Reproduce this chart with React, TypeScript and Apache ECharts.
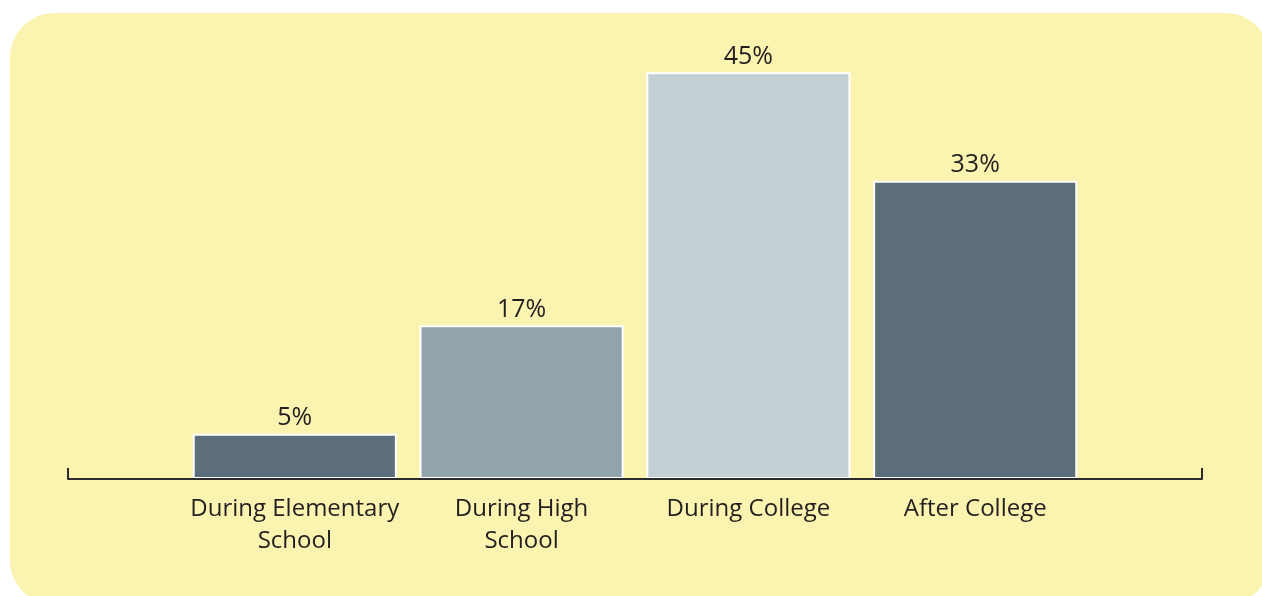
import React, { useEffect, useRef } from "react";
import * as echarts from "echarts";

const categories = ["During Elementary\nSchool", "During High\nSchool", "During College", "After College"];
const values = [5, 17, 45, 33];
const barColors = ["#5b6e7a", "#93a3ac", "#c4ced5", "#5b6e7a"];

export default function App() {
  const ref = useRef<HTMLDivElement>(null);
  useEffect(() => {
    if (!ref.current) return;
    const chart = echarts.init(ref.current, undefined, { renderer: "svg" });
    const axisData = ["", ...categories, ""];
    const seriesData: any[] = ["-", ...values.map((v, i) => ({ value: v, itemStyle: { color: barColors[i] } })), "-"];
    chart.setOption({
      animation: false,
      textStyle: { fontFamily: "Open Sans" },
      graphic: [
        {
          type: "rect",
          z: -10,
          silent: true,
          shape: { x: 10, y: 13, width: 1260, height: 592, r: 45 },
          style: { fill: "#faf4b0" },
        },
      ],
      grid: { left: 68, right: 60, top: 27, bottom: 117, containLabel: false },
      xAxis: {
        type: "category",
        data: axisData,
        boundaryGap: false,
        z: 10,
        axisLine: { show: true, lineStyle: { color: "#2b2b2b", width: 2 } },
        axisTick: {
          show: true,
          inside: true,
          length: 11,
          interval: (i: number) => i === 0 || i === axisData.length - 1,
          lineStyle: { color: "#2b2b2b", width: 2 },
        },
        axisLabel: {
          interval: 0,
          color: "#231f20",
          fontSize: 24,
          lineHeight: 32,
          margin: 11,
          fontFamily: "Open Sans",
        },
        splitLine: { show: false },
      },
      yAxis: { type: "value", min: 0, max: 50, show: false },
      series: [
        {
          type: "bar",
          data: seriesData,
          barWidth: "90%",
          itemStyle: { borderColor: "#ffffff", borderWidth: 2 },
          label: {
            show: true,
            position: "top",
            distance: 6,
            formatter: "{c}%",
            color: "#231f20",
            fontSize: 25,
            fontFamily: "Open Sans",
          },
        },
      ],
    });
    return () => chart.dispose();
  }, []);
  return <div ref={ref} style={{ position: "fixed", left: 0, top: 0, width: 1262, height: 596 }} />;
}
